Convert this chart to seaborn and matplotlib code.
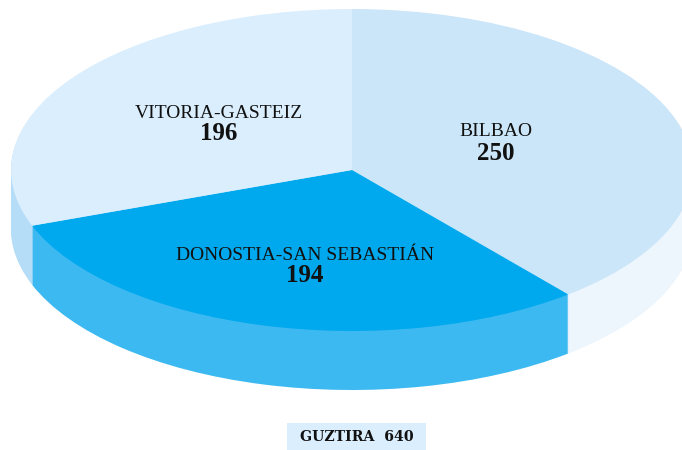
import numpy as np
import seaborn as sns
import matplotlib.pyplot as plt

cities = ["BILBAO", "DONOSTIA-SAN SEBASTIÁN", "VITORIA-GASTEIZ"]
counts = [250, 194, 196]
total_label = "GUZTIRA  640"

top_colors = ["#CBE6F9", "#00A9EE", "#DAEEFD"]
side_colors = ["#EDF5FD", "#3DB9F2", "#B5DDF7"]

sns.set_theme(style="white")
plt.rcParams["font.family"] = ["Liberation Serif", "DejaVu Serif"]

fig = plt.figure(figsize=(6.82, 4.5), dpi=100)
ax = fig.add_axes([0, 0, 1, 1])

# pixel sizes of the ellipse in the 682x450 picture
cx, cy, rx, ry, depth = 352, 170, 341, 161, 59

# thick side is a stack of shifted pies, lowest first
for d in np.arange(depth, 0, -1):
    ax.pie(counts, colors=side_colors, startangle=90, counterclock=False,
           center=(0, -d / ry), radius=1, wedgeprops={"linewidth": 0})
ax.pie(counts, colors=top_colors, startangle=90, counterclock=False,
       center=(0, 0), radius=1, wedgeprops={"linewidth": 0})

ax.set_aspect("auto")
ax.set_xlim(-cx / rx, (682 - cx) / rx)
ax.set_ylim(-(450 - cy) / ry, cy / ry)
ax.axis("off")


def put(px, py, s, **kw):
    ax.text((px - cx) / rx, (cy - py) / ry, s, ha="center", va="center",
            color="#111111", **kw)


label_pos = [(496, 132), (305, 255), (219, 113)]
value_pos = [(496, 154), (305, 276), (219, 134)]
for name, n, lp, vp in zip(cities, counts, label_pos, value_pos):
    put(*lp, name, fontsize=14)
    put(*vp, str(n), fontsize=18, fontweight="bold")

# total box
ax.fill_between([(287 - cx) / rx, (426 - cx) / rx], (cy - 423) / ry, (cy - 450) / ry,
                color="#DAEEFD", linewidth=0, zorder=4)
ax.text((357 - cx) / rx, (cy - 437) / ry, total_label, ha="center", va="center",
        fontsize=10.2, fontweight="bold", family="DejaVu Serif", color="#111111", zorder=5)

fig.savefig("out.png", dpi=100)
